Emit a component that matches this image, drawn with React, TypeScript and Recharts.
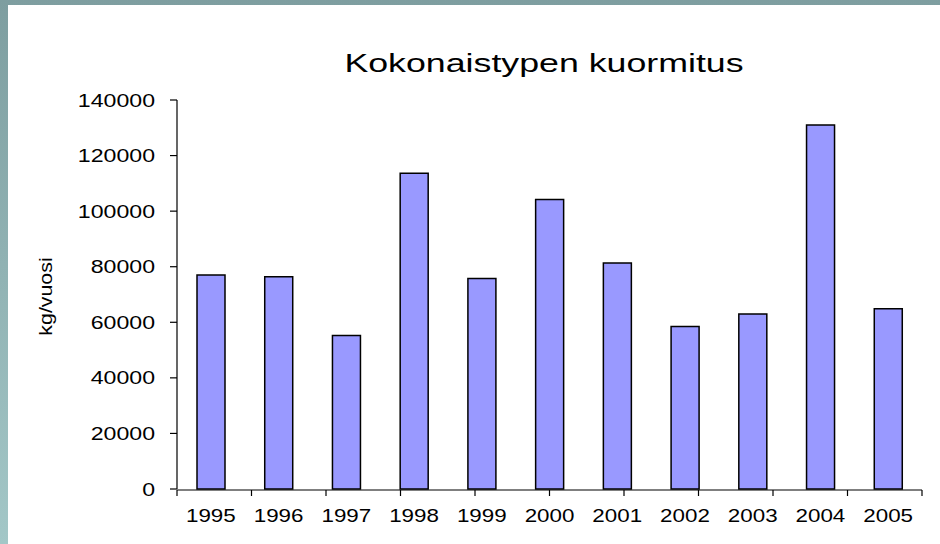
import React from 'react';
import { BarChart, Bar, XAxis, YAxis } from 'recharts';

const years = ['1995', '1996', '1997', '1998', '1999', '2000', '2001', '2002', '2003', '2004', '2005'];
const loads = [77000, 76400, 55200, 113600, 75800, 104200, 81300, 58500, 63000, 131000, 64900];
const yTicks = [0, 20000, 40000, 60000, 80000, 100000, 120000, 140000];

const FONT = '"Liberation Sans", Arial, sans-serif';

const chartData = years.map((y, i) => ({ year: y, load: loads[i] }));
const boundaryTicks = [...years.map((_, i) => i), years.length];

function YTick(props: any) {
  const { x, y, payload } = props;
  return (
    <text
      transform={`translate(${x},${y + 6.6}) scale(1.25,1)`}
      textAnchor="end"
      fontSize={18.5}
      fontFamily={FONT}
      fill="#000"
    >
      {payload.value}
    </text>
  );
}

function XTick(props: any) {
  const { x, y, payload } = props;
  return (
    <text
      transform={`translate(${x},${y + 33.2}) scale(1.21,1)`}
      textAnchor="middle"
      fontSize={18.5}
      fontFamily={FONT}
      fill="#000"
    >
      {payload.value}
    </text>
  );
}

function YLabel() {
  return (
    <text
      transform="translate(44,291.5) rotate(-90) scale(1.22,1)"
      textAnchor="middle"
      fontSize={17.5}
      fontFamily={FONT}
      fill="#000"
    >
      kg/vuosi
    </text>
  );
}

export default function App() {
  return (
    <div
      style={{
        position: 'fixed',
        left: 0,
        top: 0,
        width: 940,
        height: 544,
        background: 'linear-gradient(to bottom, #7e9ea0, #a3c7c7)',
      }}
    >
      <div style={{ position: 'absolute', left: 8, top: 5, width: 932, height: 539, background: '#fff' }}>
        <BarChart
          width={932}
          height={539}
          data={chartData}
          margin={{ top: 95, right: 18, bottom: 53, left: 0 }}
        >
          <XAxis
            xAxisId="grid"
            type="number"
            domain={[0, years.length]}
            ticks={boundaryTicks}
            allowDataOverflow
            height={1}
            tickSize={6}
            tickFormatter={() => ''}
            stroke="#000"
            strokeWidth={1.2}
          />
          <XAxis
            xAxisId="cat"
            dataKey="year"
            height={1}
            axisLine={false}
            tickLine={false}
            tickSize={0}
            tickMargin={0}
            interval={0}
            tick={<XTick />}
          />
          <YAxis
            width={169}
            domain={[0, 140000]}
            ticks={yTicks}
            interval={0}
            tickSize={7}
            tickMargin={15}
            stroke="#000"
            strokeWidth={1.2}
            tick={<YTick />}
            label={{ content: () => <YLabel /> }}
          />
          <Bar
            xAxisId="cat"
            dataKey="load"
            barSize={28}
            fill="#9999ff"
            stroke="#000"
            strokeWidth={1.5}
            isAnimationActive={false}
          />
        </BarChart>
        <svg
          width={932}
          height={120}
          style={{ position: 'absolute', left: 0, top: 0, pointerEvents: 'none' }}
        >
          <text
            transform="translate(536,66.7) scale(1.43,1)"
            textAnchor="middle"
            fontSize={25}
            fontFamily={FONT}
            fill="#000"
          >
            Kokonaistypen kuormitus
          </text>
        </svg>
      </div>
    </div>
  );
}
